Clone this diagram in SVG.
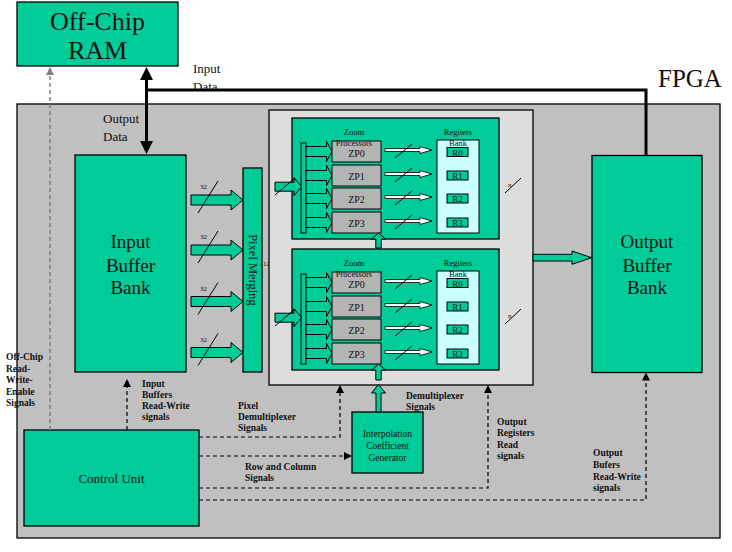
<svg xmlns="http://www.w3.org/2000/svg" width="732" height="552" viewBox="0 0 732 552">
<defs>
<style>
.g{fill:#00cc99;stroke:#000;stroke-width:1.3}
.gs{fill:#00cc99;stroke:#000;stroke-width:1}
.t{font-family:"Liberation Serif","Times New Roman",serif;fill:#111}
.b{font-family:"Liberation Serif","Times New Roman",serif;font-weight:bold;font-size:9.5px;fill:#111}
.c{text-anchor:middle}
.zp{fill:#b4b4b4;stroke:#000;stroke-width:1}
.thin{fill:#fff;stroke:#000;stroke-width:0.8}
.sl{stroke:#000;stroke-width:1;fill:none}
.thick{stroke:#000;stroke-width:3;fill:none}
.dash{stroke:#000;stroke-width:1.2;stroke-dasharray:4 3;fill:none}
.dashg{stroke:#808080;stroke-width:1.5;stroke-dasharray:4 3;fill:none}
</style>
<marker id="bigHead" viewBox="0 0 13 13" refX="0" refY="6.5" markerWidth="13" markerHeight="13" markerUnits="userSpaceOnUse" orient="auto-start-reverse">
<path d="M0,0 L13,6.5 L0,13 z" fill="#000"/>
</marker>
<marker id="dHead" viewBox="0 0 8 8" refX="0" refY="4" markerWidth="8" markerHeight="8" markerUnits="userSpaceOnUse" orient="auto">
<path d="M0,0 L8,4 L0,8 z" fill="#000"/>
</marker>
<marker id="dHeadG" viewBox="0 0 8 8" refX="0" refY="4" markerWidth="8" markerHeight="8" markerUnits="userSpaceOnUse" orient="auto">
<path d="M0,0 L8,4 L0,8 z" fill="#808080"/>
</marker>
<path id="bigArrow" d="M0,-5 L40,-5 L40,-10 L52,0 L40,10 L40,5 L0,5 z"/>
<path id="zpArrow" d="M0,-5 L20.5,-5 L20.5,-10 L26,0 L20.5,10 L20.5,5 L0,5 z"/>
<path id="inArrow" d="M0,-4.5 L19,-4.5 L19,-9 L26.5,0 L19,9 L19,4.5 L0,4.5 z"/>
<path id="thinArrow" d="M0,-1.5 L35,-1.5 L35,-3.5 L47,0 L35,3.5 L35,1.5 L0,1.5 z"/>
</defs>

<rect width="732" height="552" fill="#fff"/>

<g id="fpga">
<rect x="17" y="104" width="703" height="434" fill="#c0c0c0" stroke="#000" stroke-width="1.3"/>
<text class="t" x="658" y="87" font-size="25">FPGA</text>
</g>

<g id="off-chip-ram">
<rect class="g" x="17" y="2" width="161" height="64"/>
<text class="t c" x="97.5" y="30" font-size="26">Off-Chip</text>
<text class="t c" x="97.5" y="59" font-size="26">RAM</text>
</g>

<g id="input-buffer-bank">
<rect class="g" x="75" y="155" width="111" height="217"/>
<text class="t c" x="130.5" y="248" font-size="19">Input</text>
<text class="t c" x="130.5" y="272" font-size="19">Buffer</text>
<text class="t c" x="130.5" y="294" font-size="19">Bank</text>
</g>

<g id="bus-arrows">
<use href="#bigArrow" class="gs" transform="translate(191,200)"/>
<use href="#bigArrow" class="gs" transform="translate(191,250)"/>
<use href="#bigArrow" class="gs" transform="translate(191,301.5)"/>
<use href="#bigArrow" class="gs" transform="translate(191,352.5)"/>
<path class="sl" d="M198,213 L218,181 M198,263 L218,231 M198,314.5 L218,282.5 M198,365.5 L218,333.5"/>
<text class="t" x="200" y="189" font-size="7" fill="#333">32</text>
<text class="t" x="200" y="239" font-size="7" fill="#333">32</text>
<text class="t" x="200" y="290.5" font-size="7" fill="#333">32</text>
<text class="t" x="200" y="341.5" font-size="7" fill="#333">32</text>
<text class="t" x="263" y="265.5" font-size="7" fill="#555">128</text>
</g>

<g id="pixel-merging">
<rect class="g" x="243" y="168" width="19" height="204"/>
<text class="t c" transform="translate(248.5,270) rotate(90)" font-size="12.5">Pixel Merging</text>
</g>

<g id="zoom-panel">
<rect x="269" y="110" width="264" height="275" fill="#dddddd" stroke="#000" stroke-width="1.3"/>
</g>

<g id="zoom-unit-1">
<rect class="g" x="292" y="118" width="207" height="121"/>
<rect class="gs" x="301" y="143" width="5" height="90"/>
<use href="#zpArrow" class="gs" transform="translate(306,151.5)"/>
<use href="#zpArrow" class="gs" transform="translate(306,175.5)"/>
<use href="#zpArrow" class="gs" transform="translate(306,198.5)"/>
<use href="#zpArrow" class="gs" transform="translate(306,222.5)"/>
<rect class="zp" x="332" y="141" width="49" height="21"/>
<rect class="zp" x="332" y="165" width="49" height="21"/>
<rect class="zp" x="332" y="188" width="49" height="21"/>
<rect class="zp" x="332" y="212" width="49" height="21"/>
<text class="t c" x="356.5" y="156.5" font-size="10">ZP0</text>
<text class="t c" x="356.5" y="179.5" font-size="10">ZP1</text>
<text class="t c" x="356.5" y="202.5" font-size="10">ZP2</text>
<text class="t c" x="356.5" y="226.5" font-size="10">ZP3</text>
<text class="t c" x="354" y="135" font-size="8.5" fill="#333">Zoom</text>
<text class="t c" x="354" y="146.3" font-size="8.5" fill="#333">Processors</text>
<use href="#thinArrow" class="thin" transform="translate(385,150)"/>
<use href="#thinArrow" class="thin" transform="translate(385,174)"/>
<use href="#thinArrow" class="thin" transform="translate(385,197)"/>
<use href="#thinArrow" class="thin" transform="translate(385,221)"/>
<path class="sl" d="M395,158 L412,144 M395,182 L412,168 M395,205 L412,191 M395,229 L412,215"/>
<rect x="437" y="140" width="42" height="93" fill="#ccffff" stroke="#000" stroke-width="1"/>
<rect class="gs" x="447" y="147.5" width="21" height="9"/>
<rect class="gs" x="447" y="171" width="21" height="9"/>
<rect class="gs" x="447" y="194" width="21" height="9"/>
<rect class="gs" x="447" y="218" width="21" height="9"/>
<text class="t c" x="457.5" y="155.5" font-size="9" fill="#333">R0</text>
<text class="t c" x="457.5" y="179" font-size="9" fill="#333">R1</text>
<text class="t c" x="457.5" y="202" font-size="9" fill="#333">R2</text>
<text class="t c" x="457.5" y="226" font-size="9" fill="#333">R3</text>
<text class="t c" x="458" y="135" font-size="8.5" fill="#333">Regiters</text>
<text class="t c" x="458" y="146.3" font-size="8.5" fill="#333">Bank</text>
<use href="#inArrow" class="gs" transform="translate(275,186.7)"/>
<path class="sl" d="M275,195 L295,178"/>
<path class="sl" d="M505,193 L521,178"/>
<text class="t" x="508" y="187" font-size="7" fill="#333">n</text>
</g>

<g id="zoom-unit-2" transform="translate(0,131)">
<rect class="g" x="292" y="118" width="207" height="121"/>
<rect class="gs" x="301" y="143" width="5" height="90"/>
<use href="#zpArrow" class="gs" transform="translate(306,151.5)"/>
<use href="#zpArrow" class="gs" transform="translate(306,175.5)"/>
<use href="#zpArrow" class="gs" transform="translate(306,198.5)"/>
<use href="#zpArrow" class="gs" transform="translate(306,222.5)"/>
<rect class="zp" x="332" y="141" width="49" height="21"/>
<rect class="zp" x="332" y="165" width="49" height="21"/>
<rect class="zp" x="332" y="188" width="49" height="21"/>
<rect class="zp" x="332" y="212" width="49" height="21"/>
<text class="t c" x="356.5" y="156.5" font-size="10">ZP0</text>
<text class="t c" x="356.5" y="179.5" font-size="10">ZP1</text>
<text class="t c" x="356.5" y="202.5" font-size="10">ZP2</text>
<text class="t c" x="356.5" y="226.5" font-size="10">ZP3</text>
<text class="t c" x="354" y="135" font-size="8.5" fill="#333">Zoom</text>
<text class="t c" x="354" y="146.3" font-size="8.5" fill="#333">Processors</text>
<use href="#thinArrow" class="thin" transform="translate(385,150)"/>
<use href="#thinArrow" class="thin" transform="translate(385,174)"/>
<use href="#thinArrow" class="thin" transform="translate(385,197)"/>
<use href="#thinArrow" class="thin" transform="translate(385,221)"/>
<path class="sl" d="M395,158 L412,144 M395,182 L412,168 M395,205 L412,191 M395,229 L412,215"/>
<rect x="437" y="140" width="42" height="93" fill="#ccffff" stroke="#000" stroke-width="1"/>
<rect class="gs" x="447" y="147.5" width="21" height="9"/>
<rect class="gs" x="447" y="171" width="21" height="9"/>
<rect class="gs" x="447" y="194" width="21" height="9"/>
<rect class="gs" x="447" y="218" width="21" height="9"/>
<text class="t c" x="457.5" y="155.5" font-size="9" fill="#333">R0</text>
<text class="t c" x="457.5" y="179" font-size="9" fill="#333">R1</text>
<text class="t c" x="457.5" y="202" font-size="9" fill="#333">R2</text>
<text class="t c" x="457.5" y="226" font-size="9" fill="#333">R3</text>
<text class="t c" x="458" y="135" font-size="8.5" fill="#333">Regiters</text>
<text class="t c" x="458" y="146.3" font-size="8.5" fill="#333">Bank</text>
<use href="#inArrow" class="gs" transform="translate(275,186.7)"/>
<path class="sl" d="M275,195 L295,178"/>
<path class="sl" d="M505,193 L521,178"/>
<text class="t" x="508" y="187" font-size="7" fill="#333">n</text>
</g>

<g id="output-buffer-bank">
<rect class="g" x="592" y="155.5" width="110" height="217"/>
<text class="t c" x="647" y="248" font-size="19">Output</text>
<text class="t c" x="647" y="272" font-size="19">Buffer</text>
<text class="t c" x="647" y="294" font-size="19">Bank</text>
</g>

<g id="control-unit">
<rect class="g" x="24" y="430" width="175" height="96"/>
<text class="t c" x="111.5" y="483" font-size="13">Control Unit</text>
</g>

<g id="interpolation-coefficient-generator">
<rect class="g" x="352" y="412" width="71" height="61"/>
<text class="t c" x="387.5" y="437" font-size="9.5" fill="#333">Interpolation</text>
<text class="t c" x="387.5" y="449" font-size="9.5" fill="#333">Coefficient</text>
<text class="t c" x="387.5" y="461" font-size="9.5" fill="#333">Generator</text>
</g>

<g id="labels">
<text class="t" x="193" y="73" font-size="13">Input</text>
<text class="t" x="193" y="91" font-size="13">Data</text>
<text class="t" x="103" y="123" font-size="13">Output</text>
<text class="t" x="103" y="141" font-size="13">Data</text>
<text class="b" x="6" y="360">Off-Chip</text>
<text class="b" x="6" y="371.5">Read-</text>
<text class="b" x="6" y="383">Write-</text>
<text class="b" x="6" y="394.5">Enable</text>
<text class="b" x="6" y="406">Signals</text>
<text class="b" x="142" y="386.5">Input</text>
<text class="b" x="142" y="397.5">Buffers</text>
<text class="b" x="142" y="409">Read-Write</text>
<text class="b" x="142" y="420">signals</text>
<text class="b" x="238" y="408.5">Pixel</text>
<text class="b" x="238" y="419.5">Demultiplexer</text>
<text class="b" x="238" y="431">Signals</text>
<text class="b" x="245" y="469.5">Row and Column</text>
<text class="b" x="245" y="481">Signals</text>
<text class="b" x="406" y="398.5">Demultiplexer</text>
<text class="b" x="406" y="409.5">Signals</text>
<text class="b" x="497" y="424.5">Output</text>
<text class="b" x="497" y="436">Registers</text>
<text class="b" x="497" y="447.5">Read</text>
<text class="b" x="497" y="459">signals</text>
<text class="b" x="593" y="456">Output</text>
<text class="b" x="593" y="468">Bufers</text>
<text class="b" x="593" y="479.5">Read-Write</text>
<text class="b" x="593" y="491">signals</text>
</g>

<g id="connectors">
<path class="thick" d="M146.5,80 L146.5,141" marker-start="url(#bigHead)" marker-end="url(#bigHead)"/>
<path class="thick" d="M146.5,90 L646,90 L646,155.5"/>
<path class="gs" d="M533,254.3 L572,254.3 L572,251 L591.7,257.7 L572,264.3 L572,261 L533,261 z"/>
<path class="gs" d="M375.8,248 L375.8,239 L371.5,239 L378.5,233 L385.5,239 L381.2,239 L381.2,248 z"/>
<path class="gs" d="M375.8,380 L375.8,370 L371.5,370 L378.5,364 L385.5,370 L381.2,370 L381.2,380 z"/>
<path class="gs" d="M376,412 L376,393 L371.5,393 L378.5,384.5 L385.5,393 L381,393 L381,412 z"/>
<path class="dashg" d="M50,430 L50,75" marker-end="url(#dHeadG)"/>
<path class="dash" d="M127,430 L127,387" marker-end="url(#dHead)"/>
<path class="dash" d="M199,437 L340,437 L340,393" marker-end="url(#dHead)"/>
<path class="dash" d="M199,456 L344,456" marker-end="url(#dHead)"/>
<path class="dash" d="M199,488 L488,488 L488,393" marker-end="url(#dHead)"/>
<path class="dash" d="M199,500 L646,500 L646,380.5" marker-end="url(#dHead)"/>
</g>
</svg>
